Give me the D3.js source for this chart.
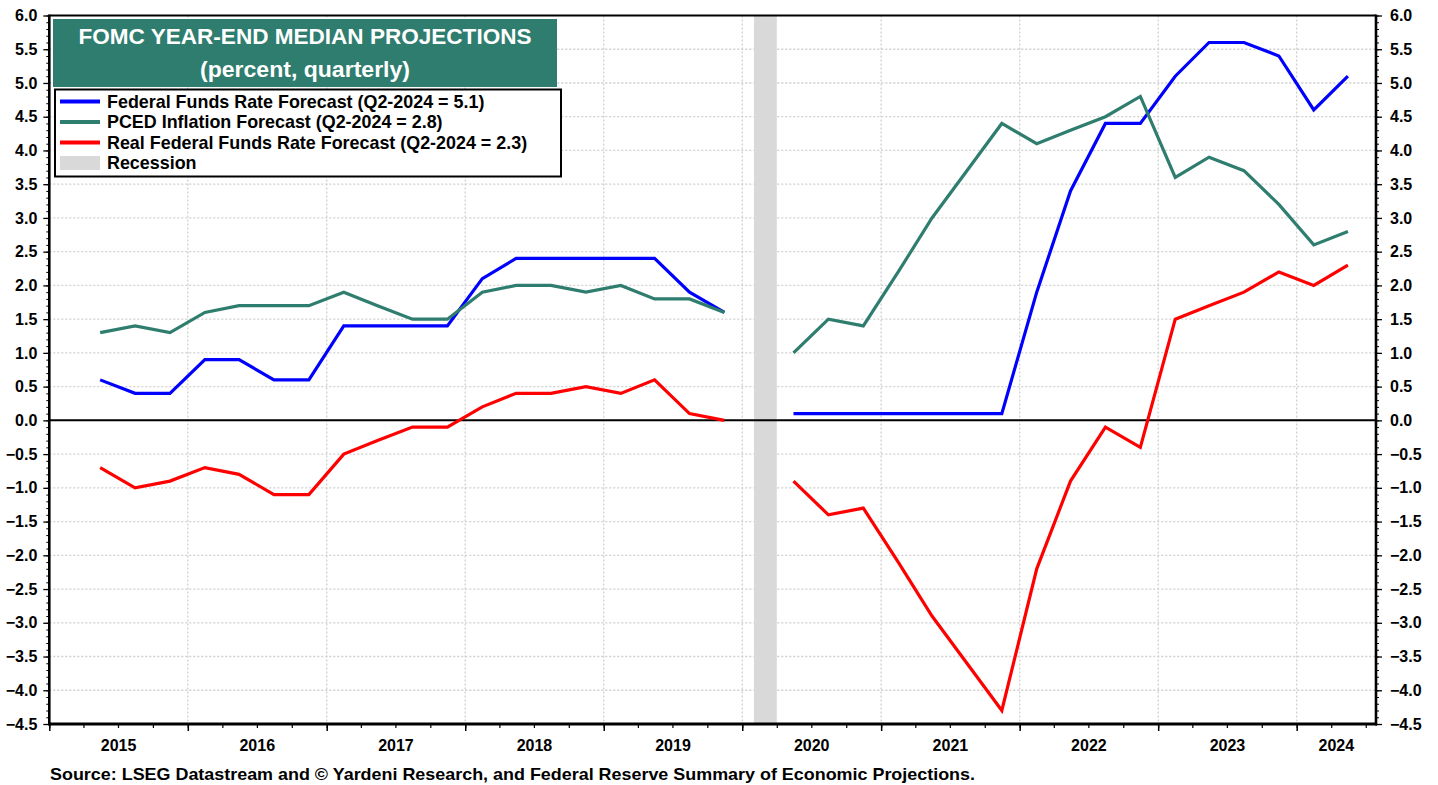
<!DOCTYPE html>
<html>
<head>
<meta charset="utf-8">
<script src="https://cdn.jsdelivr.net/npm/d3@7"></script>
<style>
  html, body { margin: 0; padding: 0; background: #fff; }
  svg { display: block; }
  text { font-family: "Liberation Sans", Arial, Helvetica, sans-serif; }
</style>
</head>
<body>
<svg id="chart" width="1438" height="785"></svg>
<script>
// ---- Data (quarterly FOMC year-end median projections; null = no SEP in Q1 2020) ----
const quarters = [
  "2015-Q2","2015-Q3","2015-Q4",
  "2016-Q1","2016-Q2","2016-Q3","2016-Q4",
  "2017-Q1","2017-Q2","2017-Q3","2017-Q4",
  "2018-Q1","2018-Q2","2018-Q3","2018-Q4",
  "2019-Q1","2019-Q2","2019-Q3","2019-Q4",
  "2020-Q1","2020-Q2","2020-Q3","2020-Q4",
  "2021-Q1","2021-Q2","2021-Q3","2021-Q4",
  "2022-Q1","2022-Q2","2022-Q3","2022-Q4",
  "2023-Q1","2023-Q2","2023-Q3","2023-Q4",
  "2024-Q1","2024-Q2"
];
const fedFunds = [0.6,0.4,0.4, 0.9,0.9,0.6,0.6, 1.4,1.4,1.4,1.4, 2.1,2.4,2.4,2.4, 2.4,2.4,1.9,1.6,
  null, 0.1,0.1,0.1, 0.1,0.1,0.1,0.1, 1.9,3.4,4.4,4.4, 5.1,5.6,5.6,5.4, 4.6,5.1];
const pced = [1.3,1.4,1.3, 1.6,1.7,1.7,1.7, 1.9,1.7,1.5,1.5, 1.9,2.0,2.0,1.9, 2.0,1.8,1.8,1.6,
  null, 1.0,1.5,1.4, 2.2,3.0,3.7,4.4, 4.1,4.3,4.5,4.8, 3.6,3.9,3.7,3.2, 2.6,2.8];
const realFF = [-0.7,-1.0,-0.9, -0.7,-0.8,-1.1,-1.1, -0.5,-0.3,-0.1,-0.1, 0.2,0.4,0.4,0.5, 0.4,0.6,0.1,0.0,
  null, -0.9,-1.4,-1.3, -2.1,-2.9,-3.6,-4.3, -2.2,-0.9,-0.1,-0.4, 1.5,1.7,1.9,2.2, 2.0,2.3];
const recessions = [["2020-02-01","2020-04-01"]];
const yearLabels = ["2015","2016","2017","2018","2019","2020","2021","2022","2023","2024"];
const yTickValues = [-4.5,-4.0,-3.5,-3.0,-2.5,-2.0,-1.5,-1.0,-0.5,0.0,0.5,1.0,1.5,2.0,2.5,3.0,3.5,4.0,4.5,5.0,5.5,6.0];
const seriesNames = [
  "Federal Funds Rate Forecast (Q2-2024 = 5.1)",
  "PCED Inflation Forecast (Q2-2024 = 2.8)",
  "Real Federal Funds Rate Forecast (Q2-2024 = 2.3)"
];
const seriesColors = ["#0000ff", "#2e7d6e", "#ff0000"];
const titleLines = ["FOMC YEAR-END MEDIAN PROJECTIONS", "(percent, quarterly)"];
const sourceText = "Source: LSEG Datastream and \u00A9 Yardeni Research, and Federal Reserve Summary of Economic Projections.";

// ---- Helpers ----
function quarterMid(q) {
  const [yr, qq] = q.split("-Q").map(Number);
  return new Date(yr, (qq - 1) * 3 + 1, 15);
}
const parse = d3.timeParse("%Y-%m-%d");

// ---- Layout ----
const L = 49.3, R = 1376, T = 15.5, B = 724;
const svg = d3.select("#chart");

const x = d3.scaleTime()
  .domain([new Date(2015, 0, 1), new Date(2024, 6, 28)])
  .range([L, R]);
const y = d3.scaleLinear().domain([-4.5, 6.0]).range([B, T]);

const dates = quarters.map(quarterMid);

// Gridlines (horizontal)
const gridG = svg.append("g");
gridG.selectAll("line.h")
  .data(yTickValues.filter(v => v !== 0 && v !== -4.5 && v !== 6.0))
  .join("line")
  .attr("x1", L).attr("x2", R)
  .attr("y1", d => y(d)).attr("y2", d => y(d))
  .attr("stroke", "#cfcfcf").attr("stroke-width", 1.3)
  .attr("stroke-dasharray", "2,2");
// vertical year gridlines
const yearStarts = yearLabels.map(s => new Date(+s, 0, 1));
gridG.selectAll("line.v")
  .data(yearStarts.slice(1))
  .join("line")
  .attr("x1", d => x(d)).attr("x2", d => x(d))
  .attr("y1", T).attr("y2", B)
  .attr("stroke", "#cfcfcf").attr("stroke-width", 1.3)
  .attr("stroke-dasharray", "2,2");

// Recession bands
svg.append("g").selectAll("rect")
  .data(recessions)
  .join("rect")
  .attr("x", d => x(parse(d[0])))
  .attr("width", d => x(parse(d[1])) - x(parse(d[0])))
  .attr("y", T).attr("height", B - T)
  .attr("fill", "#d9d9d9");

// Zero line
svg.append("line")
  .attr("x1", L).attr("x2", R)
  .attr("y1", y(0)).attr("y2", y(0))
  .attr("stroke", "#000").attr("stroke-width", 2);

// Series lines
const series = [fedFunds, pced, realFF];
const line = d3.line()
  .defined(d => d.v !== null)
  .x(d => x(d.date))
  .y(d => y(d.v));
series.forEach((vals, i) => {
  const pts = vals.map((v, j) => ({ date: dates[j], v }));
  svg.append("path")
    .datum(pts)
    .attr("d", line)
    .attr("fill", "none")
    .attr("stroke", seriesColors[i])
    .attr("stroke-width", 3.2)
    .attr("stroke-linejoin", "miter");
});

// Axes
const minorY = d3.range(-45, 61, 1).map(v => v / 10);
const fmt = d3.format(".1f");
const axisFont = g => g.selectAll("text")
  .attr("font-family", "'Liberation Sans', Arial, sans-serif")
  .attr("font-size", 16).attr("font-weight", "bold").attr("fill", "#000");

// left minor
svg.append("g").attr("transform", `translate(${L},0)`)
  .call(d3.axisLeft(y).tickValues(minorY).tickSize(3).tickFormat(""))
  .call(g => g.select(".domain").remove())
  .call(g => g.selectAll("line").attr("stroke-width", 1));
// left major
svg.append("g").attr("transform", `translate(${L},0)`)
  .call(d3.axisLeft(y).tickValues(yTickValues).tickSize(6).tickPadding(6).tickFormat(fmt))
  .call(g => g.select(".domain").remove())
  .call(g => g.selectAll("line").attr("stroke-width", 1.3))
  .call(axisFont);
// right minor
svg.append("g").attr("transform", `translate(${R},0)`)
  .call(d3.axisRight(y).tickValues(minorY).tickSize(3).tickFormat(""))
  .call(g => g.select(".domain").remove())
  .call(g => g.selectAll("line").attr("stroke-width", 1));
// right major
svg.append("g").attr("transform", `translate(${R},0)`)
  .call(d3.axisRight(y).tickValues(yTickValues).tickSize(6).tickPadding(8).tickFormat(fmt))
  .call(g => g.select(".domain").remove())
  .call(g => g.selectAll("line").attr("stroke-width", 1.3))
  .call(axisFont);

// bottom minor (quarters)
const quarterTicks = d3.timeMonth.every(3).range(new Date(2015, 0, 1), new Date(2024, 7, 1));
svg.append("g").attr("transform", `translate(0,${B})`)
  .call(d3.axisBottom(x).tickValues(quarterTicks).tickSize(4).tickFormat(""))
  .call(g => g.select(".domain").remove())
  .call(g => g.selectAll("line").attr("stroke-width", 1.2));
// bottom major (years)
svg.append("g").attr("transform", `translate(0,${B})`)
  .call(d3.axisBottom(x).tickValues(yearStarts).tickSize(7).tickFormat(""))
  .call(g => g.select(".domain").remove())
  .call(g => g.selectAll("line").attr("stroke-width", 1.5));
// year labels centered in visible part of each year
svg.append("g").selectAll("text")
  .data(yearLabels)
  .join("text")
  .attr("x", d => {
    const a = Math.max(L, x(new Date(+d, 0, 1)));
    const b = Math.min(R, x(new Date(+d + 1, 0, 1)));
    return (a + b) / 2;
  })
  .attr("y", 751)
  .attr("text-anchor", "middle")
  .attr("font-size", 16).attr("font-weight", "bold")
  .text(d => d);

// Frame
svg.append("line").attr("x1", L).attr("x2", R).attr("y1", T).attr("y2", T)
  .attr("stroke", "#000").attr("stroke-width", 2.2);
svg.append("line").attr("x1", L).attr("x2", L).attr("y1", T - 1).attr("y2", B + 1.5)
  .attr("stroke", "#000").attr("stroke-width", 2.6);
svg.append("line").attr("x1", R).attr("x2", R).attr("y1", T - 1).attr("y2", B + 1.5)
  .attr("stroke", "#000").attr("stroke-width", 2.6);
svg.append("line").attr("x1", L - 1).attr("x2", R + 1).attr("y1", B).attr("y2", B)
  .attr("stroke", "#000").attr("stroke-width", 3);

// Title box
const tb = svg.append("g");
tb.append("rect").attr("x", 53).attr("y", 19).attr("width", 504).attr("height", 68)
  .attr("fill", "#2e7d6e");
const titleWidths = [453, 210];
tb.selectAll("text").data(titleLines).join("text")
  .attr("x", 305).attr("y", (d, i) => 43.5 + i * 33)
  .attr("text-anchor", "middle")
  .attr("fill", "#fff").attr("font-size", 22).attr("font-weight", "bold")
  .attr("textLength", (d, i) => titleWidths[i])
  .attr("lengthAdjust", "spacingAndGlyphs")
  .text(d => d);

// Legend
const lg = svg.append("g");
lg.append("rect").attr("x", 55).attr("y", 89.5).attr("width", 506).attr("height", 87)
  .attr("fill", "#fff").attr("stroke", "#000").attr("stroke-width", 2);
const rowY = [101.5, 122, 142.5, 163];
seriesNames.forEach((name, i) => {
  lg.append("line").attr("x1", 60).attr("x2", 100).attr("y1", rowY[i]).attr("y2", rowY[i])
    .attr("stroke", seriesColors[i]).attr("stroke-width", 4);
  lg.append("text").attr("x", 107).attr("y", rowY[i] + 6)
    .attr("font-size", 17.9).attr("font-weight", "bold").text(name);
});
lg.append("rect").attr("x", 60).attr("y", rowY[3] - 7).attr("width", 40).attr("height", 14)
  .attr("fill", "#d9d9d9");
lg.append("text").attr("x", 107).attr("y", rowY[3] + 6)
  .attr("font-size", 17.9).attr("font-weight", "bold").text("Recession");

// Source
svg.append("text").attr("x", 50).attr("y", 780)
  .attr("font-size", 16.5).attr("font-weight", "bold")
  .attr("textLength", 925).attr("lengthAdjust", "spacingAndGlyphs")
  .text(sourceText);
</script>
</body>
</html>
